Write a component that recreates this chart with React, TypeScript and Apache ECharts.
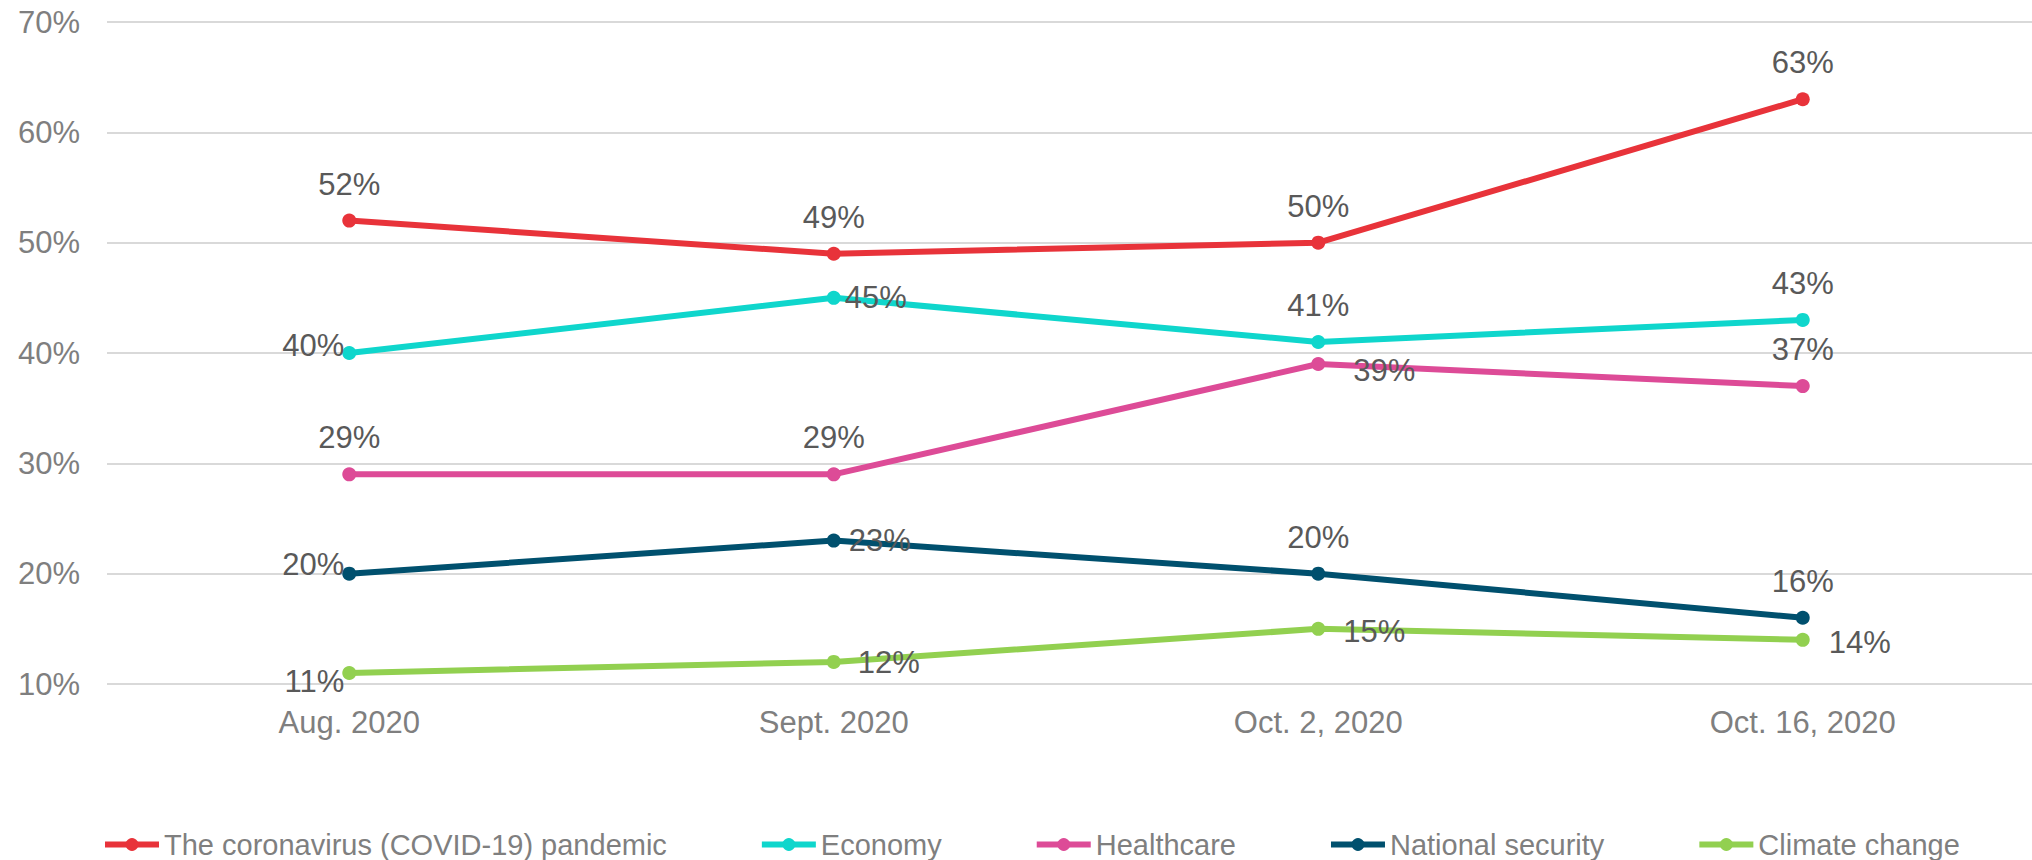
import React, { useEffect, useRef } from "react";
import * as echarts from "echarts";

const categories = ["Aug. 2020", "Sept. 2020", "Oct. 2, 2020", "Oct. 16, 2020"];
const seriesNames = [
  "The coronavirus (COVID-19) pandemic",
  "Economy",
  "Healthcare",
  "National security",
  "Climate change",
];
const covid = [52, 49, 50, 63];
const economy = [40, 45, 41, 43];
const healthcare = [29, 29, 39, 37];
const nationalSecurity = [20, 23, 20, 16];
const climateChange = [11, 12, 15, 14];
const yTicks = [10, 20, 30, 40, 50, 60, 70];

const colors = ["#E8333A", "#0FD6CC", "#DD4B97", "#00506E", "#92D050"];

// label placement styling per series / point: [position, distance, offsetX, offsetY]
type P = [string, number, number, number];
const T: P = ["top", 14, 0, 0];
const placements: P[][] = [
  [T, T, T, T],
  [["left", -2, 0, -8], ["right", 4, 0, 0], T, T],
  [T, T, ["right", 28, 0, 6], T],
  [["left", -2, 0, -9], ["right", 8, 0, 0], T, T],
  [["left", -2, 0, 9], ["right", 17, 0, 1], ["right", 18, 0, 3], ["right", 19, 0, 3]],
];

const FONT = "'Liberation Sans', Arial, sans-serif";

export default function App() {
  const ref = useRef<HTMLDivElement>(null);
  useEffect(() => {
    document.body.style.margin = "0";
    const chart = echarts.init(ref.current!, null, { renderer: "svg" });
    const allValues = [covid, economy, healthcare, nationalSecurity, climateChange];
    const series = allValues.map((vals, si) => ({
      name: seriesNames[si],
      type: "line",
      symbol: "circle",
      symbolSize: 14,
      color: colors[si],
      lineStyle: { width: 6, color: colors[si] },
      itemStyle: { color: colors[si] },
      z: 10 - si,
      data: vals.map((v, i) => {
        const [pos, dist, ox, oy] = placements[si][i];
        return {
          value: v,
          label: { position: pos, distance: dist, offset: [ox, oy] },
        };
      }),
      label: {
        show: true,
        formatter: "{c}%",
        fontSize: 31,
        fontFamily: FONT,
        color: "#595959",
      },
    }));
    chart.setOption({
      animation: false,
      textStyle: { fontFamily: FONT },
      grid: {
        left: 107,
        right: -13,
        top: 22,
        bottom: 176,
        containLabel: false,
        outerBoundsMode: "none",
      },
      xAxis: {
        type: "category",
        data: categories,
        boundaryGap: true,
        axisLine: { show: false },
        axisTick: { show: false },
        axisLabel: { fontSize: 31, color: "#7F7F7F", margin: 23, fontFamily: FONT },
      },
      yAxis: {
        type: "value",
        min: yTicks[0],
        max: yTicks[yTicks.length - 1],
        interval: 10,
        axisLine: { show: false },
        axisTick: { show: false },
        axisLabel: {
          fontSize: 31,
          color: "#7F7F7F",
          margin: 27,
          fontFamily: FONT,
          formatter: "{value}%",
        },
        splitLine: { lineStyle: { color: "#D9D9D9", width: 2 } },
      },
      legend: {
        left: 102,
        top: 830,
        padding: 0,
        itemWidth: 54,
        itemHeight: 16,
        itemGap: 92,
        lineStyle: { width: 6 },
        textStyle: { fontSize: 29, color: "#7F7F7F", fontFamily: FONT },
        data: seriesNames,
      },
      series,
    });
    return () => chart.dispose();
  }, []);
  return (
    <div
      ref={ref}
      style={{ position: "absolute", left: 0, top: 0, width: 2032, height: 860 }}
    />
  );
}
